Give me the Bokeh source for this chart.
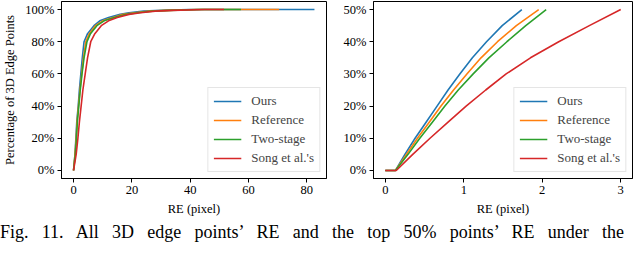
from bokeh.plotting import figure
from bokeh.models import Range1d, FixedTicker, PrintfTickFormatter, Legend, LegendItem, Div
from bokeh.layouts import row, column
from bokeh.embed import file_html
from bokeh.resources import INLINE

# ---- data: all 3D edge points (CDF) ----
all_pct = [0, 10, 20, 30, 40, 50, 60, 70, 80, 85, 90, 93, 95, 97, 98, 99, 99.5, 100, 100]
all_ours = [0, 0.5, 0.8, 1.1, 1.6, 2.0, 2.5, 3.0, 3.6, 4.8, 7.0, 9.0, 12, 16, 19, 24, 30, 40, 82.6]
all_ref = [0, 0.5, 0.9, 1.2, 1.7, 2.2, 2.8, 3.4, 4.2, 5.4, 7.5, 10, 13.5, 17, 21, 26, 32, 42, 70.5]
all_two = [0, 0.6, 1.0, 1.3, 1.8, 2.3, 2.9, 3.6, 4.6, 5.8, 8.0, 10.5, 14, 18, 22, 27, 33, 44, 57.4]
all_song = [0, 0.9, 1.5, 2.0, 2.6, 3.2, 4.0, 4.8, 5.9, 7.3, 9.5, 12, 15, 19, 23, 28, 34, 45, 51.6]

# ---- data: top 50% points ----
top_pct = [0, 0, 5, 10, 15, 20, 25, 30, 35, 40, 45, 50]
top_ours = [0, 0.13, 0.25, 0.38, 0.52, 0.66, 0.80, 0.95, 1.11, 1.29, 1.49, 1.74]
top_ref = [0, 0.13, 0.27, 0.41, 0.56, 0.71, 0.87, 1.04, 1.22, 1.43, 1.67, 1.955]
top_two = [0, 0.13, 0.29, 0.44, 0.60, 0.76, 0.93, 1.12, 1.32, 1.55, 1.79, 2.05]
top_song = [0, 0.14, 0.35, 0.57, 0.80, 1.03, 1.28, 1.54, 1.85, 2.21, 2.60, 3.00]

names = ["Ours", "Reference", "Two-stage", "Song et al.'s"]
colors = ["#1f77b4", "#ff7f0e", "#2ca02c", "#d62728"]
x_ticks_all = [0, 20, 40, 60, 80]
y_ticks_all = [0, 20, 40, 60, 80, 100]
x_ticks_top = [0, 1, 2, 3]
y_ticks_top = [0, 10, 20, 30, 40, 50]

caption = "Fig. 11.  All 3D edge points\u2019 RE and the top 50% points\u2019 RE under the"

FONT = "Liberation Serif"


def make_panel(xs_list, ys, xr, yr, xticks, yticks, ylabel, left_border, width_frame):
    p = figure(output_backend="svg", toolbar_location=None,
               frame_width=width_frame, frame_height=177,
               min_border_left=left_border, min_border_right=1,
               min_border_top=1, min_border_bottom=38,
               x_range=Range1d(*xr), y_range=Range1d(*yr))
    p.xgrid.visible = False
    p.ygrid.visible = False
    p.outline_line_color = "black"
    p.outline_line_width = 1
    p.background_fill_color = "white"
    p.border_fill_color = "white"
    for ax in (p.xaxis[0], p.yaxis[0]):
        ax.axis_line_color = "black"
        ax.major_tick_line_color = "black"
        ax.major_tick_out = 4
        ax.major_tick_in = 0
        ax.minor_tick_line_color = None
        ax.major_label_text_font = FONT
        ax.major_label_text_font_size = "12.5px"
        ax.major_label_text_color = "black"
        ax.axis_label_text_font = FONT
        ax.axis_label_text_font_size = "12.5px"
        ax.axis_label_text_font_style = "normal"
        ax.axis_label_text_color = "black"
        ax.major_label_standoff = 3
    p.xaxis.ticker = FixedTicker(ticks=xticks)
    p.yaxis.ticker = FixedTicker(ticks=yticks)
    p.yaxis.formatter = PrintfTickFormatter(format="%d%%")
    p.xaxis.axis_label = "RE (pixel)"
    p.xaxis.axis_label_standoff = 5
    if ylabel:
        p.yaxis.axis_label = ylabel
        p.yaxis.axis_label_standoff = 5
    items = []
    for xs, name, c in zip(xs_list, names, colors):
        r = p.line(xs, ys, line_color=c, line_width=1.6)
        items.append(LegendItem(label=name, renderers=[r]))
    leg = Legend(items=items, location="bottom_right",
                 label_text_font=FONT, label_text_font_size="13px",
                 glyph_width=28, glyph_height=14, label_height=14,
                 spacing=3, padding=5, margin=6, label_standoff=10,
                 border_line_color="#cccccc", background_fill_alpha=0.8)
    p.add_layout(leg)
    return p


p1 = make_panel([all_ours, all_ref, all_two, all_song], all_pct,
                (-4.13, 86.73), (-5, 105), x_ticks_all, y_ticks_all,
                "Percentage of 3D Edge Points", 52, 265)
p2 = make_panel([top_ours, top_ref, top_two, top_song], top_pct,
                (-0.15, 3.15), (-2.5, 52.5), x_ticks_top, y_ticks_top,
                None, 46, 259)

div = Div(text=("<div style=\"font-family:'Liberation Serif';font-size:18px;line-height:24px;"
                "padding-top:2px;text-align:justify;text-align-last:justify;color:black;width:624px;\">"
                + caption + "</div>"),
          width=624, height=27, margin=(0, 0, 0, 0))

layout = column(row(p1, p2), div)
open("out.html", "w").write(file_html(layout, INLINE))
